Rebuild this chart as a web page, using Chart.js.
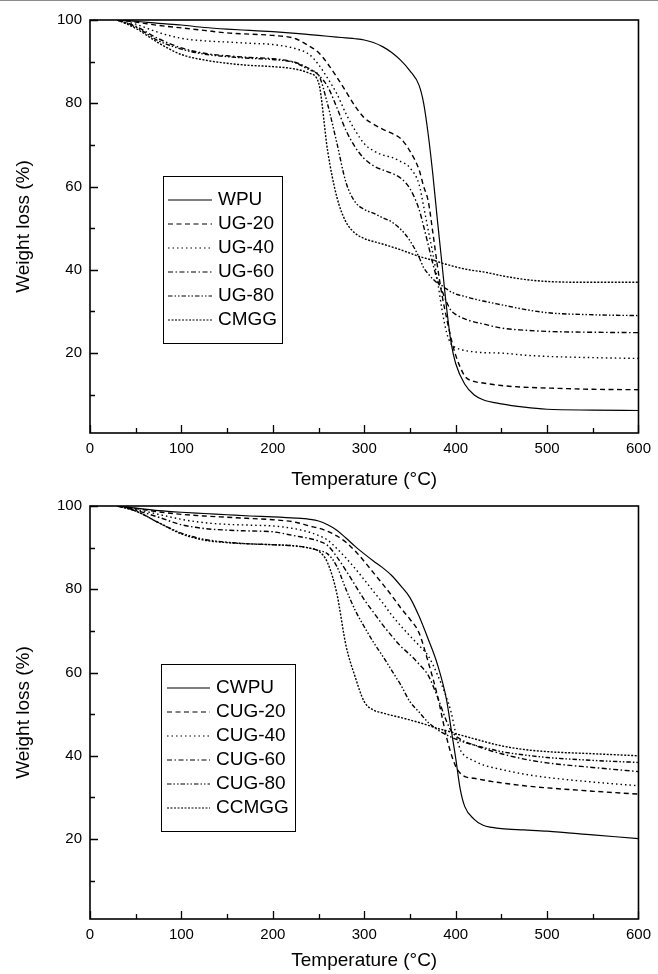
<!DOCTYPE html>
<html>
<head>
<meta charset="utf-8">
<script src="https://cdn.jsdelivr.net/npm/chart.js@4.4.1/dist/chart.umd.min.js"></script>
<style>
  html, body { margin: 0; padding: 0; background: #fff; }
  body { width: 658px; height: 974px; position: relative; overflow: hidden; }
  canvas { position: absolute; left: 0; }
  #chartTop { top: 0; }
  #chartBottom { top: 485px; }
  #topLine { position: absolute; left: 0; top: 0; width: 658px; height: 1px; background: #8c8c8c; z-index: 2; }
</style>
</head>
<body>
<div id="topLine"></div>
<canvas id="chartTop" width="658" height="495"></canvas>
<canvas id="chartBottom" width="658" height="489"></canvas>
<script>
// temperatures (°C), top panel
const tempsTop = [30, 50, 75, 100, 125, 150, 175, 200, 225, 240, 250, 260, 270, 280, 290, 300, 310, 320, 330, 340,
                  350, 360, 365, 370, 375, 380, 385, 390, 395, 400, 410, 420, 430, 450, 475, 500, 550, 600];
const wpu  = [100, 99.7, 99.2, 98.8, 98.2, 97.8, 97.5, 97.2, 96.8, 96.5, 96.3, 96.1, 95.9, 95.7, 95.5, 95.2, 94.6, 93.6, 92.2, 90.3,
              87.8, 84.3, 80, 72.5, 63, 52, 41.5, 31, 22.5, 17.5, 12.5, 10, 8.8, 7.8, 7, 6.5, 6.3, 6.2];
const ug20 = [100, 99.5, 98.7, 98.1, 97.5, 96.9, 96.6, 96.3, 95.5, 93.7, 92.2, 89.5, 86.3, 82.8, 79.3, 76.5, 75, 73.8, 72.8, 71.5,
              68.5, 64, 60, 56.5, 49, 41, 34, 28.5, 23.5, 19.5, 14.5, 13.2, 12.8, 12.2, 11.8, 11.6, 11.3, 11.2];
const ug40 = [100, 99, 97, 95.6, 95, 94.7, 94.4, 94.1, 93.1, 91.7, 89.3, 86, 82.3, 77.5, 73.5, 70.3, 68.6, 67.6, 67, 66,
              64.5, 60.5, 55.2, 49.5, 44, 37.6, 30.5, 25, 22.2, 21.3, 20.6, 20.3, 20.1, 20, 19.5, 19.2, 18.9, 18.7];
const ug60 = [100, 98.5, 95.5, 93.3, 92, 91.4, 91, 90.7, 89.8, 88.3, 86.8, 84, 79, 73.5, 69.5, 66.7, 65, 64, 63.2, 62,
              59.5, 54.5, 50.4, 46, 41.5, 37.6, 35, 32.3, 30.2, 29.3, 28.2, 27.5, 27, 26, 25.5, 25.2, 25, 24.9];
const ug80 = [100, 98.3, 95, 93, 91.8, 91.2, 90.8, 90.5, 89.7, 88, 86.8, 79.7, 70.5, 61, 56.3, 54.5, 53.6, 52.5, 51.5, 49.7,
              47, 43, 40.5, 39, 37.8, 36.8, 36.2, 35.4, 34.7, 34.2, 33.6, 33, 32.5, 31.6, 30.5, 29.7, 29.2, 29];
const cmgg = [100, 98, 94.5, 91.7, 90.4, 89.6, 89.1, 88.8, 88.2, 87.2, 85, 68.5, 57.5, 51.5, 48.8, 47.5, 46.8, 46.2, 45.5, 44.8,
              44, 43.2, 42.9, 42.6, 42.3, 42, 41.6, 41.3, 41, 40.7, 40.2, 39.8, 39.5, 38.6, 37.7, 37.2, 37, 37];

// bottom panel
const tempsBottom = [30, 50, 75, 100, 125, 150, 175, 200, 225, 240, 250, 260, 270, 280, 290, 300, 310, 320, 330, 340,
                     350, 360, 370, 380, 390, 395, 400, 405, 410, 420, 430, 440, 450, 475, 500, 550, 600];
const cwpu  = [100, 99.5, 98.9, 98.5, 98.2, 97.9, 97.6, 97.4, 97.1, 96.8, 96.4, 95.5, 94.2, 92.3, 90.3, 88.5, 86.8, 85.2, 83.3, 80.8,
               78, 73.5, 68, 62, 53.5, 46.5, 39.5, 32, 27.8, 24.8, 23.3, 22.8, 22.5, 22.2, 21.9, 21, 20.1];
const cug20 = [100, 99.4, 98.6, 98, 97.6, 97.3, 97, 96.7, 96.1, 95.2, 94.7, 93.9, 92.8, 91.3, 89.2, 86.7, 84, 81.3, 78.5, 75.5,
               72.8, 69.5, 62.5, 54.5, 44.5, 40.5, 37.5, 35.8, 35, 34.6, 34.2, 33.8, 33.5, 32.8, 32.3, 31.5, 30.8];
const cug40 = [100, 99.2, 98, 96.8, 96, 95.6, 95.4, 95.2, 94.5, 93.7, 92.9, 91.8, 89.8, 87.5, 85, 82.3, 79.5, 76.8, 73.8, 71.2,
               68.8, 66.5, 64, 59.5, 54, 50.5, 45.5, 41.5, 40, 38.8, 37.8, 37.2, 36.7, 35.6, 34.8, 33.7, 32.8];
const cug60 = [100, 99, 97.3, 95.5, 94.6, 94.2, 94, 93.8, 92.8, 92.2, 91.6, 90.5, 87.8, 84.5, 81, 77.5, 74.5, 71.5, 68.8, 66.3,
               64.3, 62, 59.3, 54.2, 48.3, 46, 44.8, 44, 43.4, 42.6, 41.8, 41.1, 40.5, 39.2, 38.3, 37.2, 36.2];
const cug80 = [100, 98.8, 96, 93.5, 92, 91.3, 90.9, 90.7, 90.4, 89.9, 89.3, 88.5, 85.5, 80, 75, 71, 67.3, 64, 60.5, 57,
               53, 50.5, 48, 46.3, 45, 44.5, 44, 43.6, 43.2, 42.6, 42, 41.5, 41, 40.2, 39.6, 38.9, 38.4];
const ccmgg = [100, 98.8, 96, 93.3, 91.8, 91.2, 90.9, 90.7, 90.4, 89.9, 89.2, 86.3, 79, 66.5, 59, 53, 51, 50.3, 49.7, 49.2,
               48.6, 48, 47.3, 46.6, 46, 45.7, 45.3, 45, 44.7, 44.1, 43.5, 42.9, 42.4, 41.5, 41, 40.5, 40];

// axis ticks (minor ones get no label)
const xTickValues = [0, 50, 100, 150, 200, 250, 300, 350, 400, 450, 500, 550, 600];
const yTickValues = [10, 20, 30, 40, 50, 60, 70, 80, 90, 100];

const FONT = '"Liberation Sans", Arial, Helvetica, sans-serif';

// line styles of the six traces
const dashes = {
    solid: [],
    dash: [5, 3.5],
    dot: [1.5, 3],
    dashDot: [5, 2.5, 1.5, 2.5],
    dashDotDot: [4.5, 2, 1.5, 2, 1.5, 2],
    shortDash: [2, 1.5]
};

// frame, inward tick marks and the boxed legend
const framePlugin = {
    id: 'frame',
    afterDatasetsDraw(chart, args, opts) {
        const { ctx, chartArea: a, scales: { x, y } } = chart;
        ctx.save();
        ctx.strokeStyle = '#000';
        ctx.lineWidth = 1.6;
        ctx.strokeRect(a.left, a.top, a.right - a.left, a.bottom - a.top);

        ctx.lineWidth = 1.3;
        ctx.beginPath();
        xTickValues.forEach(v => {
            const px = Math.round(x.getPixelForValue(v)) + 0.5;
            const len = v % 100 === 0 ? 8 : 5;
            ctx.moveTo(px, a.bottom);
            ctx.lineTo(px, a.bottom - len);
        });
        yTickValues.forEach(v => {
            const py = Math.round(y.getPixelForValue(v)) + 0.5;
            const len = v % 20 === 0 ? 8 : 5;
            ctx.moveTo(a.left, py);
            ctx.lineTo(a.left + len, py);
        });
        ctx.stroke();

        const b = opts.box;
        ctx.fillStyle = '#fff';
        ctx.fillRect(b.left, b.top, b.width, b.height);
        ctx.lineWidth = 1;
        ctx.strokeRect(b.left + 0.5, b.top + 0.5, b.width, b.height);
        ctx.font = '19px ' + FONT;
        ctx.textBaseline = 'middle';
        chart.data.datasets.forEach((ds, i) => {
            const yy = b.firstRow + i * b.rowGap;
            ctx.setLineDash(ds.borderDash || []);
            ctx.lineWidth = 1.2;
            ctx.beginPath();
            ctx.moveTo(b.sampleLeft, yy);
            ctx.lineTo(b.sampleLeft + b.sampleWidth, yy);
            ctx.stroke();
            ctx.setLineDash([]);
            ctx.fillStyle = '#000';
            ctx.fillText(ds.label, b.textLeft, yy);
        });
        ctx.restore();
    }
};

function makeChart(canvasId, temps, series, layout) {
    const datasets = series.map(s => ({
        label: s.label,
        data: temps.map((t, i) => ({ x: t, y: s.values[i] })),
        borderColor: '#000',
        borderWidth: s.dash.length ? 1.4 : 1.2,
        borderDash: s.dash,
        pointRadius: 0,
        fill: false,
        cubicInterpolationMode: 'monotone'
    }));

    return new Chart(document.getElementById(canvasId), {
        type: 'line',
        data: { datasets: datasets },
        options: {
            responsive: false,
            animation: false,
            devicePixelRatio: 1,
            layout: { padding: { top: layout.padTop, right: 15, left: 0, bottom: 0 } },
            plugins: {
                legend: { display: false },
                tooltip: { enabled: false },
                frame: { box: layout.box }
            },
            scales: {
                x: {
                    type: 'linear',
                    min: 0,
                    max: 600,
                    afterBuildTicks: scale => { scale.ticks = xTickValues.map(v => ({ value: v })); },
                    afterFit: scale => { scale.height = layout.xAxisHeight; },
                    grid: { display: false, drawTicks: false },
                    border: { display: false },
                    ticks: {
                        autoSkip: false,
                        maxRotation: 0,
                        padding: 7,
                        color: '#000',
                        font: { family: FONT, size: 15 },
                        callback: v => (v % 100 === 0 ? String(v) : '')
                    },
                    title: {
                        display: true,
                        text: 'Temperature (°C)',
                        color: '#000',
                        font: { family: FONT, size: 19 },
                        padding: { top: 0, bottom: layout.xTitlePad }
                    }
                },
                y: {
                    min: 0.8,
                    max: 100,
                    afterBuildTicks: scale => { scale.ticks = yTickValues.map(v => ({ value: v })); },
                    afterFit: scale => { scale.width = 90; },
                    grid: { display: false, drawTicks: false },
                    border: { display: false },
                    ticks: {
                        autoSkip: false,
                        padding: 8,
                        color: '#000',
                        font: { family: FONT, size: 15 },
                        callback: v => (v % 20 === 0 ? String(v) : '')
                    },
                    title: {
                        display: true,
                        text: 'Weight loss (%)',
                        color: '#000',
                        font: { family: FONT, size: 19 },
                        padding: { top: 12, bottom: 0 }
                    }
                }
            }
        },
        plugins: [framePlugin]
    });
}

makeChart('chartTop', tempsTop, [
    { label: 'WPU', values: wpu, dash: dashes.solid },
    { label: 'UG-20', values: ug20, dash: dashes.dash },
    { label: 'UG-40', values: ug40, dash: dashes.dot },
    { label: 'UG-60', values: ug60, dash: dashes.dashDot },
    { label: 'UG-80', values: ug80, dash: dashes.dashDotDot },
    { label: 'CMGG', values: cmgg, dash: dashes.shortDash }
], {
    padTop: 20,
    xAxisHeight: 62,
    xTitlePad: 3.6,
    box: { left: 163, top: 176, width: 119, height: 167, firstRow: 200, rowGap: 24, sampleLeft: 168, sampleWidth: 44, textLeft: 218 }
});

makeChart('chartBottom', tempsBottom, [
    { label: 'CWPU', values: cwpu, dash: dashes.solid },
    { label: 'CUG-20', values: cug20, dash: dashes.dash },
    { label: 'CUG-40', values: cug40, dash: dashes.dot },
    { label: 'CUG-60', values: cug60, dash: dashes.dashDot },
    { label: 'CUG-80', values: cug80, dash: dashes.dashDotDot },
    { label: 'CCMGG', values: ccmgg, dash: dashes.shortDash }
], {
    padTop: 21,
    xAxisHeight: 55,
    xTitlePad: 1.6,
    box: { left: 161, top: 179, width: 134, height: 167, firstRow: 203, rowGap: 24, sampleLeft: 167, sampleWidth: 43, textLeft: 216 }
});
</script>
</body>
</html>
